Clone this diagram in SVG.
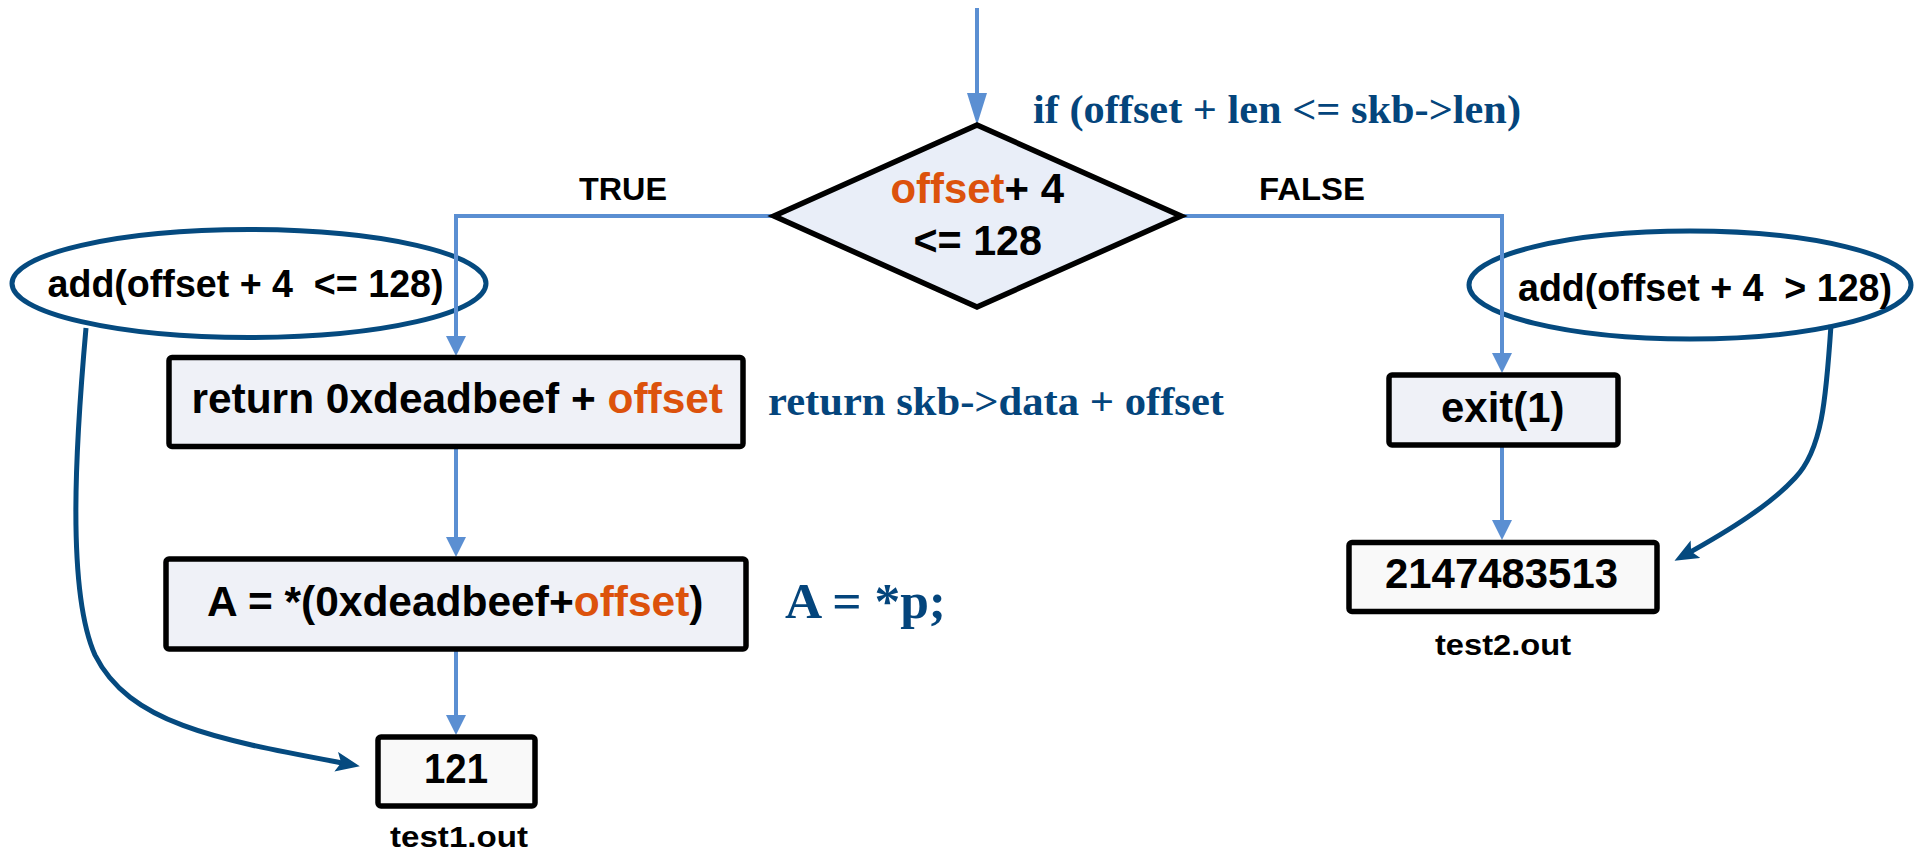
<svg xmlns="http://www.w3.org/2000/svg" width="1925" height="852" viewBox="0 0 1925 852">
  <style>
    .box { stroke: #000; stroke-width: 5.5; }
    .op { fill: #eff1f7; }
    .out { fill: #f9f9f9; }
    .sans { font-family: "Liberation Sans", Arial, sans-serif; font-weight: bold; fill: #000; white-space: pre; }
    .serif { font-family: "Liberation Serif", "Times New Roman", serif; font-weight: bold; fill: #04457c; white-space: pre; }
    .hl { fill: #dc520c; }
    .flow { fill: none; stroke: #5b8fd2; stroke-width: 4; }
    .cov { fill: none; stroke: #054a7f; stroke-width: 5; }
  </style>
  <defs>
    <marker id="arrow" viewBox="0 0 20 20" refX="8" refY="10" markerWidth="20" markerHeight="20" markerUnits="userSpaceOnUse" orient="auto">
      <path d="M0,0 L20,10 L0,20 z" fill="#5b8fd2"/>
    </marker>
    <marker id="arrowLong" viewBox="0 0 32 20" refX="20" refY="10" markerWidth="32" markerHeight="20" markerUnits="userSpaceOnUse" orient="auto">
      <path d="M0,0 L32,10 L0,20 z" fill="#5b8fd2"/>
    </marker>
    <marker id="arrowDark" viewBox="0 0 24 20" refX="12" refY="10" markerWidth="24" markerHeight="20" markerUnits="userSpaceOnUse" orient="auto">
      <path d="M0,0 L24,10 L0,20 L5,10 z" fill="#054a7f"/>
    </marker>
  </defs>

  <rect width="1925" height="852" fill="#fff"/>

  <!-- source annotations -->
  <text class="serif" x="1033" y="123" font-size="41" textLength="488" lengthAdjust="spacingAndGlyphs">if (offset + len &lt;= skb-&gt;len)</text>
  <text class="serif" x="768" y="415" font-size="40" textLength="456" lengthAdjust="spacingAndGlyphs">return skb-&gt;data + offset</text>
  <text class="serif" x="785" y="618" font-size="50" textLength="161" lengthAdjust="spacingAndGlyphs">A = *p;</text>

  <!-- branch labels -->
  <text class="sans" x="579" y="200" font-size="32" textLength="88" lengthAdjust="spacingAndGlyphs">TRUE</text>
  <text class="sans" x="1259" y="200" font-size="32" textLength="106" lengthAdjust="spacingAndGlyphs">FALSE</text>

  <!-- path constraints -->
  <g id="cond-true">
    <ellipse class="cov" cx="249" cy="283.5" rx="237" ry="54"/>
    <text class="sans" x="47.5" y="297" font-size="38" textLength="396" lengthAdjust="spacingAndGlyphs">add(offset + 4  &lt;= 128)</text>
  </g>
  <g id="cond-false">
    <ellipse class="cov" cx="1690" cy="285" rx="221" ry="54"/>
    <text class="sans" x="1518" y="301" font-size="38" textLength="374" lengthAdjust="spacingAndGlyphs">add(offset + 4  &gt; 128)</text>
  </g>

  <!-- control flow -->
  <g id="connectors">
    <path class="flow" d="M977 8 L977 113" marker-end="url(#arrowLong)"/>
    <path class="flow" d="M774 216 L456 216 L456 344" marker-end="url(#arrow)"/>
    <path class="flow" d="M1182 216 L1502 216 L1502 361" marker-end="url(#arrow)"/>
    <path class="flow" d="M456 447 L456 545" marker-end="url(#arrow)"/>
    <path class="flow" d="M456 650 L456 723" marker-end="url(#arrow)"/>
    <path class="flow" d="M1502 446 L1502 528" marker-end="url(#arrow)"/>
    <path class="cov" d="M86 328 C 76 440, 66 590, 95 655 C 130 725, 220 740, 348 764" marker-end="url(#arrowDark)"/>
    <path class="cov" d="M1831 325 C 1826 400, 1822 450, 1795 478 C 1770 505, 1730 530, 1685 555" marker-end="url(#arrowDark)"/>
  </g>

  <g id="decision">
    <polygon points="977,125 1181,216 977,307 774,216" fill="#e9eef8" stroke="#000" stroke-width="5.5" stroke-linejoin="miter"/>
    <text class="sans" x="890.5" y="202.5" font-size="42" textLength="173.5" lengthAdjust="spacingAndGlyphs"><tspan class="hl">offset</tspan>+ 4</text>
    <text class="sans" x="913.5" y="255" font-size="42" textLength="128.5" lengthAdjust="spacingAndGlyphs">&lt;= 128</text>
  </g>

  <g id="ret">
    <rect class="box op" x="169" y="357.5" width="574" height="89" rx="3"/>
    <text class="sans" x="191.5" y="413" font-size="42" textLength="531.5" lengthAdjust="spacingAndGlyphs">return 0xdeadbeef + <tspan class="hl">offset</tspan></text>
  </g>

  <g id="load">
    <rect class="box op" x="166" y="559" width="580" height="90" rx="3"/>
    <text class="sans" x="207" y="616" font-size="42" textLength="496.5" lengthAdjust="spacingAndGlyphs">A = *(0xdeadbeef+<tspan class="hl">offset</tspan>)</text>
  </g>

  <g id="out1">
    <rect class="box out" x="378" y="737" width="157" height="69" rx="3"/>
    <text class="sans" x="424" y="783" font-size="42" textLength="64" lengthAdjust="spacingAndGlyphs">121</text>
    <text class="sans" x="390" y="847" font-size="30" textLength="138" lengthAdjust="spacingAndGlyphs">test1.out</text>
  </g>

  <g id="exit">
    <rect class="box op" x="1389" y="375" width="229" height="70" rx="3"/>
    <text class="sans" x="1441" y="422" font-size="43" textLength="123.5" lengthAdjust="spacingAndGlyphs">exit(1)</text>
  </g>

  <g id="out2">
    <rect class="box out" x="1349" y="542.5" width="308" height="69" rx="3"/>
    <text class="sans" x="1385" y="588" font-size="42" textLength="233" lengthAdjust="spacingAndGlyphs">2147483513</text>
    <text class="sans" x="1435" y="655" font-size="30" textLength="136" lengthAdjust="spacingAndGlyphs">test2.out</text>
  </g>
</svg>
